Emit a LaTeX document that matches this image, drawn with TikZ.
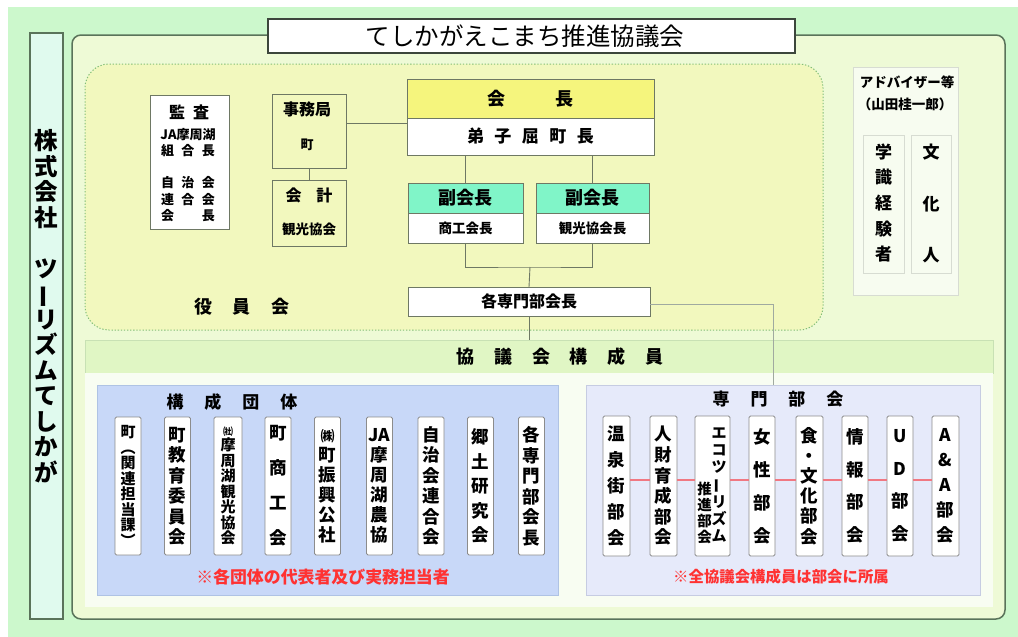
\documentclass[tikz,border=0pt]{standalone}
\usepackage{fontspec}
\setmainfont{Noto Sans CJK JP}
\usetikzlibrary{calc}
\definecolor{cOuter}{RGB}{204,248,204}
\definecolor{cLeft}{RGB}{224,250,238}
\definecolor{cMain}{RGB}{238,250,214}
\definecolor{cOff}{RGB}{242,248,190}
\definecolor{cDot}{RGB}{130,190,120}
\definecolor{cMainL}{RGB}{90,115,90}
\definecolor{cTitleL}{RGB}{60,70,60}
\definecolor{cBox}{RGB}{110,120,100}
\definecolor{cYel}{RGB}{245,245,125}
\definecolor{cGrn}{RGB}{128,245,200}
\definecolor{cAdv}{RGB}{247,252,240}
\definecolor{cAdvL}{RGB}{215,220,210}
\definecolor{cBand}{RGB}{224,246,196}
\definecolor{cBandL}{RGB}{200,225,180}
\definecolor{cLow}{RGB}{248,253,242}
\definecolor{cBlue}{RGB}{200,216,248}
\definecolor{cBlueL}{RGB}{175,195,228}
\definecolor{cLav}{RGB}{230,234,250}
\definecolor{cLavL}{RGB}{198,204,226}
\definecolor{cMem}{RGB}{140,140,140}
\definecolor{cRed}{RGB}{255,50,50}
\definecolor{cPink}{RGB}{240,120,130}
\definecolor{cGrayL}{RGB}{160,170,160}
\newcommand{\vbar}{\makebox[1em]{\rotatebox[origin=c]{90}{ー}}}
\newcommand{\gp}[1]{\hspace{#1pt}}
\begin{document}
\begin{tikzpicture}[x=1pt,y=-1pt,
  every node/.style={inner sep=0pt, outer sep=0pt},
  box/.style={draw=cBox, line width=0.9pt, anchor=north west},
  mem/.style={draw=cMem, fill=white, rounded corners=1.5pt, line width=0.8pt, minimum width=26pt, align=center},
  vt/.style 2 args={font=\bfseries\fontsize{#1}{#2}\selectfont},
  conn/.style={draw=cBox, line width=0.9pt},
]
\useasboundingbox (0,0) rectangle (1018,637);
\fill[white] (0,0) rectangle (1018,637);
\fill[cOuter] (8,7) rectangle (1018,637);

% left company box
\node[draw=cMainL, fill=cLeft, line width=1.3pt, minimum width=33pt, minimum height=586pt, anchor=north west] (corp) at (30,33) {};
\node[vt={23.5}{25.5}, align=center] (corptxt) at (46.5,306) {株\\式\\会\\社\\[25.5pt]ツ\\\vbar\\リ\\ズ\\ム\\て\\し\\か\\が};

% main box
\node[draw=cMainL, fill=cMain, line width=1.5pt, rounded corners=9pt, minimum width=933pt, minimum height=584pt, anchor=north west] (main) at (72,35) {};

% officers area
\node[draw=cDot, fill=cOff, dash pattern=on 1.3pt off 1.8pt, line width=1pt, rounded corners=24pt, minimum width=738pt, minimum height=266pt, anchor=north west] (officers) at (85,64) {};

% title
\node[draw=cTitleL, line width=1.3pt, fill=white, minimum width=527pt, minimum height=34pt, anchor=north west] (title) at (268,19) {};
\node[font=\fontsize{24.5}{24.5}\selectfont] (titletxt) at (525,36) {てしかがえこまち推進協議会};

% advisor
\node[draw=cAdvL, fill=cAdv, line width=0.8pt, minimum width=105pt, minimum height=228pt, anchor=north west] (advisor) at (853,67) {};
\node[font=\bfseries\fontsize{13.5}{13.5}\selectfont] (advT1) at (907,82) {アドバイザー等};
\node[font=\bfseries\fontsize{13.5}{13.5}\selectfont] (advT2) at (905,104) {（山田桂一郎）};
\node[draw=cAdvL, fill=cAdv, line width=0.8pt, minimum width=41pt, minimum height=138pt, anchor=north west] (gaku) at (863,135) {};
\node[draw=cAdvL, fill=cAdv, line width=0.8pt, minimum width=40pt, minimum height=138pt, anchor=north west] (bunka) at (911,135) {};
\node[vt={17}{25.7}, align=center] (gakutxt) at (883.5,203) {学\\識\\経\\験\\者};
\node[vt={17}{51.5}, align=center] (bunkatxt) at (931,203.5) {文\\化\\人};

% band and lower area
\node[fill=cBand, draw=cBandL, line width=0.6pt, minimum width=908pt, minimum height=33pt, anchor=north west] (band) at (85,340) {};
\node[fill=cLow, minimum width=908pt, minimum height=234pt, anchor=north west] (lower) at (85,373) {};
\node[font=\bfseries\fontsize{18}{18}\selectfont] (bandtxt) at (560,357) {協\gp{20}議\gp{20}会\gp{20}構\gp{20}成\gp{20}員};

% panels
\node[fill=cBlue, draw=cBlueL, line width=0.6pt, minimum width=461pt, minimum height=210pt, anchor=north west] (groups) at (97,385) {};
\node[fill=cLav, draw=cLavL, line width=0.6pt, minimum width=394pt, minimum height=210pt, anchor=north west] (bukai) at (586,385) {};
\node[font=\bfseries\fontsize{17}{17}\selectfont] (groupslbl) at (232,402) {構\gp{21}成\gp{21}団\gp{21}体};
\node[font=\bfseries\fontsize{17}{17}\selectfont] (bukailbl) at (778,399) {専\gp{21}門\gp{21}部\gp{21}会};
\node[font=\bfseries\fontsize{16.9}{17}\selectfont, text=cRed] (groupsnote) at (323,577) {※各団体の代表者及び実務担当者};
\node[font=\bfseries\fontsize{15.4}{16}\selectfont, text=cRed] (bukainote) at (781,577) {※全協議会構成員は部会に所属};

% officer boxes
\node[box, fill=white, minimum width=79pt, minimum height=134pt] (kansa) at (150,95) {};
\node[box, minimum width=74pt, minimum height=74pt] (jim) at (272,94) {};
\node[box, minimum width=74pt, minimum height=66pt] (kaikei) at (272,180) {};
\node[box, fill=cYel, minimum width=247pt, minimum height=39pt, font=\bfseries\fontsize{18}{18}\selectfont] (kaichoH) at (407,79) {会\gp{50}長};
\node[box, fill=white, minimum width=247pt, minimum height=37pt, font=\bfseries\fontsize{17}{17}\selectfont] (kaichoB) at (407,118) {弟\gp{10.5}子\gp{10.5}屈\gp{10.5}町\gp{10.5}長};
\node[box, fill=cGrn, minimum width=115pt, minimum height=30pt, font=\bfseries\fontsize{18}{18}\selectfont] (fuku1H) at (408,183) {副会長};
\node[box, fill=white, minimum width=115pt, minimum height=30pt, font=\bfseries\fontsize{13.5}{13.5}\selectfont] (fuku1B) at (408,213) {商工会長};
\node[box, fill=cGrn, minimum width=113pt, minimum height=30pt, font=\bfseries\fontsize{18}{18}\selectfont] (fuku2H) at (536,183) {副会長};
\node[box, fill=white, minimum width=113pt, minimum height=30pt, font=\bfseries\fontsize{13.5}{13.5}\selectfont] (fuku2B) at (536,213) {観光協会長};
\node[box, fill=white, minimum width=242pt, minimum height=29pt, font=\bfseries\fontsize{16}{16}\selectfont] (kse) at (408,287) {各専門部会長};

% officer texts
\node[font=\bfseries\fontsize{16}{16}\selectfont] (kansa1) at (189,112) {監\gp{8}査};
\node[font=\bfseries\fontsize{13}{13}\selectfont] (kansa2) at (188,135) {JA摩周湖};
\node[font=\bfseries\fontsize{13}{13}\selectfont] (kansa3) at (188,151) {組\gp{7.5}合\gp{7.5}長};
\node[font=\bfseries\fontsize{13}{13}\selectfont] (kansa4) at (188,183) {自\gp{7.5}治\gp{7.5}会};
\node[font=\bfseries\fontsize{13}{13}\selectfont] (kansa5) at (188,200) {連\gp{7.5}合\gp{7.5}会};
\node[font=\bfseries\fontsize{13}{13}\selectfont] (kansa6) at (188,216) {会\gp{28}長};
\node[font=\bfseries\fontsize{16}{16}\selectfont] (jim1) at (307,109) {事務局};
\node[font=\bfseries\fontsize{13}{13}\selectfont] (jim2) at (307,145) {町};
\node[font=\bfseries\fontsize{16}{16}\selectfont] (kaikei1) at (309,195) {会\gp{15}計};
\node[font=\bfseries\fontsize{13.5}{13.5}\selectfont] (kaikei2) at (309,229) {観光協会};
\node[font=\bfseries\fontsize{18}{18}\selectfont] (yakuin) at (242,307) {役\gp{20.5}員\gp{20.5}会};

% connectors
\coordinate (j1) at ([yshift=8pt]jim.east);
\draw[conn] (j1) -- (j1 -| kaichoH.west);
\draw[conn] (jim.south) -- (kaikei.north);
\draw[conn] (kaichoB.south -| fuku1H.north) -- (fuku1H.north);
\draw[conn] (kaichoB.south -| fuku2H.north) -- (fuku2H.north);
\coordinate (jn) at (530,267);
\draw[conn] (fuku1B.south) |- (jn) -| (fuku2B.south);
\draw[conn] (jn) -- (kse.north);
\draw[conn] (kse.south) -- (kse.south |- band.north);
\coordinate (k1) at ([yshift=-2.5pt]kse.east);
\coordinate (bk) at (773,385);
\draw[cGrayL, line width=0.7pt] (k1) -| (bk);

% member groups
\node[mem, minimum height=138pt, vt={15}{15.5}] (m1) at (128,486) {町\\︵\\関\\連\\担\\当\\課\\︶};
\node[mem, minimum height=138pt, vt={17.5}{20.5}] (m2) at (177.5,486) {町\\教\\育\\委\\員\\会};
\node[mem, minimum height=138pt, minimum width=28pt, vt={15}{15.5}] (m3) at (228,486) {{\fontsize{10}{10}\selectfont ㈳}\\摩\\周\\湖\\観\\光\\協\\会};
\node[mem, minimum height=138pt, vt={17.5}{35}] (m4) at (278,486) {町\\商\\工\\会};
\node[mem, minimum height=138pt, vt={17.5}{20}] (m5) at (327.5,486) {{\fontsize{14}{14}\selectfont ㈱}\\町\\振\\興\\公\\社};
\node[mem, minimum height=138pt, vt={17.5}{20}] (m6) at (379.5,486) {JA\\摩\\周\\湖\\農\\協};
\node[mem, minimum height=138pt, vt={17.5}{20.5}] (m7) at (431,486) {自\\治\\会\\連\\合\\会};
\node[mem, minimum height=138pt, vt={17.5}{24.5}] (m8) at (480.5,486) {郷\\土\\研\\究\\会};
\node[mem, minimum height=138pt, vt={17.5}{20.5}] (m9) at (531.5,486) {各\\専\\門\\部\\会\\長};

% sections
\node[mem, minimum height=140pt, minimum width=27pt, vt={17.5}{26}] (s1) at (616.5,486) {温\\泉\\街\\部\\会};
\node[mem, minimum height=140pt, minimum width=27pt, vt={17.5}{20.6}] (s2) at (663.5,486) {人\\財\\育\\成\\部\\会};
\node[mem, minimum height=140pt, minimum width=35pt] (s3) at (712.5,486) {};
\node[vt={15}{17.3}, align=center] (s3r) at (719,485) {エ\\コ\\ツ\\\vbar\\リ\\ズ\\ム};
\node[vt={14.5}{16}, align=center] (s3l) at (704.5,512.5) {推\\進\\部\\会};
\node[mem, minimum height=140pt, vt={17.5}{33}] (s4) at (762,486) {女\\性\\部\\会};
\node[mem, minimum height=140pt, minimum width=27pt, vt={17.5}{20.2}] (s5) at (809.5,486) {食\\・\\文\\化\\部\\会};
\node[mem, minimum height=140pt, vt={17.5}{32.5}] (s6) at (855,486) {情\\報\\部\\会};
\node[mem, minimum height=140pt, vt={17.5}{32.5}] (s7) at (900,486) {U\\D\\部\\会};
\node[mem, minimum height=140pt, minimum width=27pt, vt={17.5}{25}] (s8) at (945.5,486) {A\\\&\\A\\部\\会};

\foreach \a/\b in {s1/s2,s2/s3,s3/s4,s4/s5,s5/s6,s6/s7,s7/s8}{
  \draw[cPink, line width=1.2pt] ([yshift=6pt]\a.east) -- ([yshift=6pt]\b.west);
}
\end{tikzpicture}
\end{document}
